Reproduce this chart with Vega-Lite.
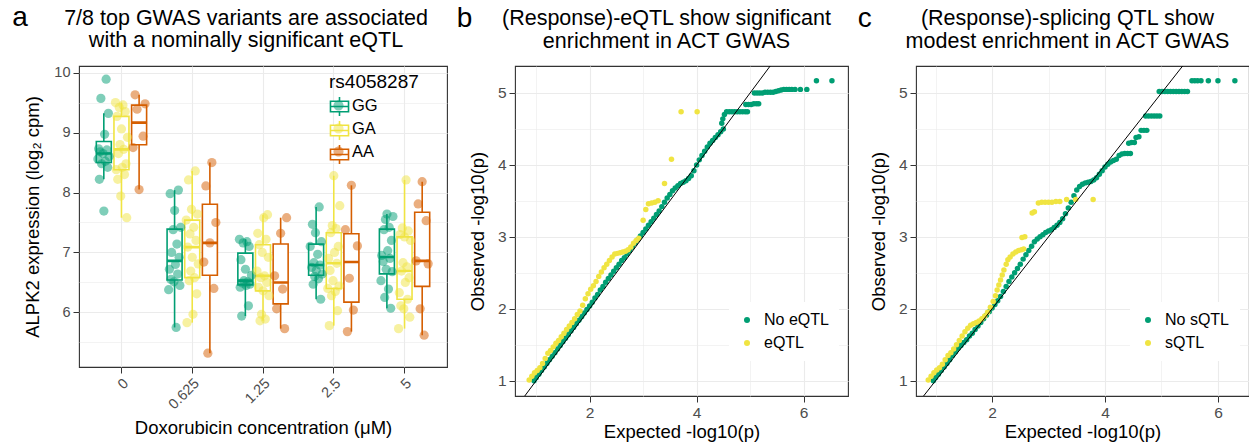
{
  "$schema": "https://vega.github.io/schema/vega-lite/v6.json",
  "background": "white",
  "padding": {"left": 12, "top": 4, "right": 0, "bottom": 0},
  "config": {
    "font": "Liberation Sans",
    "view": {"stroke": "#333333", "strokeWidth": 1.1},
    "axis": {"domain": false, "grid": true, "gridColor": "#EBEBEB", "labelColor": "#4D4D4D", "tickColor": "#333333", "tickSize": 6, "tickWidth": 1, "labelPadding": 3, "titleFontWeight": "normal", "titleColor": "#000000", "titleFontSize": 18.5, "labelFlush": false, "labelOverlap": false},
    "title": {"fontWeight": "normal", "color": "#000000"},
    "legend": {"labelColor": "#000000", "titleFontWeight": "normal", "titleColor": "#000000"}
  },
  "datasets": {
    "expr": [
      {"c":"0","g":"GG","i":9,"v":7.69},{"c":"0","g":"GG","i":3,"v":8.22},{"c":"0","g":"GG","i":14,"v":8.42},{"c":"0","g":"GG","i":6,"v":8.48},{"c":"0","g":"GG","i":11,"v":8.52},{"c":"0","g":"GG","i":1,"v":8.56},{"c":"0","g":"GG","i":16,"v":8.60},{"c":"0","g":"GG","i":8,"v":8.65},{"c":"0","g":"GG","i":4,"v":8.68},{"c":"0","g":"GG","i":13,"v":8.71},{"c":"0","g":"GG","i":2,"v":8.73},{"c":"0","g":"GG","i":10,"v":8.97},{"c":"0","g":"GG","i":15,"v":9.32},{"c":"0","g":"GG","i":5,"v":9.57},{"c":"0","g":"GG","i":12,"v":9.89},
      {"c":"0.625","g":"GG","i":11,"v":5.75},{"c":"0.625","g":"GG","i":1,"v":6.38},{"c":"0.625","g":"GG","i":16,"v":6.45},{"c":"0.625","g":"GG","i":8,"v":6.51},{"c":"0.625","g":"GG","i":4,"v":6.55},{"c":"0.625","g":"GG","i":13,"v":6.64},{"c":"0.625","g":"GG","i":2,"v":6.72},{"c":"0.625","g":"GG","i":10,"v":6.80},{"c":"0.625","g":"GG","i":15,"v":6.92},{"c":"0.625","g":"GG","i":5,"v":7.00},{"c":"0.625","g":"GG","i":12,"v":7.14},{"c":"0.625","g":"GG","i":7,"v":7.38},{"c":"0.625","g":"GG","i":17,"v":7.42},{"c":"0.625","g":"GG","i":9,"v":7.70},{"c":"0.625","g":"GG","i":3,"v":7.98},{"c":"0.625","g":"GG","i":14,"v":8.04},
      {"c":"1.25","g":"GG","i":4,"v":5.94},{"c":"1.25","g":"GG","i":13,"v":6.11},{"c":"1.25","g":"GG","i":2,"v":6.42},{"c":"1.25","g":"GG","i":10,"v":6.45},{"c":"1.25","g":"GG","i":15,"v":6.47},{"c":"1.25","g":"GG","i":5,"v":6.49},{"c":"1.25","g":"GG","i":12,"v":6.51},{"c":"1.25","g":"GG","i":7,"v":6.53},{"c":"1.25","g":"GG","i":17,"v":6.62},{"c":"1.25","g":"GG","i":9,"v":6.72},{"c":"1.25","g":"GG","i":3,"v":6.88},{"c":"1.25","g":"GG","i":14,"v":7.10},{"c":"1.25","g":"GG","i":6,"v":7.16},{"c":"1.25","g":"GG","i":11,"v":7.18},{"c":"1.25","g":"GG","i":1,"v":7.22},
      {"c":"2.5","g":"GG","i":15,"v":6.22},{"c":"2.5","g":"GG","i":5,"v":6.47},{"c":"2.5","g":"GG","i":12,"v":6.56},{"c":"2.5","g":"GG","i":7,"v":6.60},{"c":"2.5","g":"GG","i":17,"v":6.64},{"c":"2.5","g":"GG","i":9,"v":6.70},{"c":"2.5","g":"GG","i":3,"v":6.75},{"c":"2.5","g":"GG","i":14,"v":6.79},{"c":"2.5","g":"GG","i":6,"v":6.83},{"c":"2.5","g":"GG","i":11,"v":6.97},{"c":"2.5","g":"GG","i":1,"v":7.10},{"c":"2.5","g":"GG","i":16,"v":7.18},{"c":"2.5","g":"GG","i":8,"v":7.33},{"c":"2.5","g":"GG","i":4,"v":7.47},{"c":"2.5","g":"GG","i":13,"v":7.76},
      {"c":"5","g":"GG","i":14,"v":6.07},{"c":"5","g":"GG","i":6,"v":6.25},{"c":"5","g":"GG","i":11,"v":6.39},{"c":"5","g":"GG","i":1,"v":6.53},{"c":"5","g":"GG","i":16,"v":6.68},{"c":"5","g":"GG","i":8,"v":6.72},{"c":"5","g":"GG","i":4,"v":6.85},{"c":"5","g":"GG","i":13,"v":6.90},{"c":"5","g":"GG","i":2,"v":6.95},{"c":"5","g":"GG","i":10,"v":7.03},{"c":"5","g":"GG","i":15,"v":7.20},{"c":"5","g":"GG","i":5,"v":7.38},{"c":"5","g":"GG","i":12,"v":7.42},{"c":"5","g":"GG","i":7,"v":7.55},{"c":"5","g":"GG","i":17,"v":7.60},{"c":"5","g":"GG","i":9,"v":7.64},
      {"c":"0","g":"GA","i":16,"v":7.58},{"c":"0","g":"GA","i":8,"v":7.94},{"c":"0","g":"GA","i":4,"v":8.22},{"c":"0","g":"GA","i":13,"v":8.30},{"c":"0","g":"GA","i":2,"v":8.38},{"c":"0","g":"GA","i":10,"v":8.42},{"c":"0","g":"GA","i":15,"v":8.48},{"c":"0","g":"GA","i":5,"v":8.65},{"c":"0","g":"GA","i":12,"v":8.72},{"c":"0","g":"GA","i":7,"v":8.80},{"c":"0","g":"GA","i":17,"v":8.92},{"c":"0","g":"GA","i":9,"v":9.06},{"c":"0","g":"GA","i":3,"v":9.27},{"c":"0","g":"GA","i":14,"v":9.35},{"c":"0","g":"GA","i":6,"v":9.42},{"c":"0","g":"GA","i":11,"v":9.46},{"c":"0","g":"GA","i":1,"v":9.50},
      {"c":"0.625","g":"GA","i":2,"v":5.83},{"c":"0.625","g":"GA","i":10,"v":5.97},{"c":"0.625","g":"GA","i":15,"v":6.31},{"c":"0.625","g":"GA","i":5,"v":6.53},{"c":"0.625","g":"GA","i":12,"v":6.58},{"c":"0.625","g":"GA","i":7,"v":6.69},{"c":"0.625","g":"GA","i":17,"v":6.81},{"c":"0.625","g":"GA","i":9,"v":6.92},{"c":"0.625","g":"GA","i":3,"v":7.09},{"c":"0.625","g":"GA","i":14,"v":7.20},{"c":"0.625","g":"GA","i":6,"v":7.31},{"c":"0.625","g":"GA","i":11,"v":7.42},{"c":"0.625","g":"GA","i":1,"v":7.54},{"c":"0.625","g":"GA","i":16,"v":7.64},{"c":"0.625","g":"GA","i":8,"v":7.72},{"c":"0.625","g":"GA","i":4,"v":8.21},{"c":"0.625","g":"GA","i":13,"v":8.36},
      {"c":"1.25","g":"GA","i":5,"v":5.86},{"c":"1.25","g":"GA","i":12,"v":5.89},{"c":"1.25","g":"GA","i":7,"v":5.97},{"c":"1.25","g":"GA","i":17,"v":6.28},{"c":"1.25","g":"GA","i":9,"v":6.36},{"c":"1.25","g":"GA","i":3,"v":6.42},{"c":"1.25","g":"GA","i":14,"v":6.50},{"c":"1.25","g":"GA","i":6,"v":6.58},{"c":"1.25","g":"GA","i":11,"v":6.61},{"c":"1.25","g":"GA","i":1,"v":6.69},{"c":"1.25","g":"GA","i":16,"v":6.92},{"c":"1.25","g":"GA","i":8,"v":7.00},{"c":"1.25","g":"GA","i":4,"v":7.13},{"c":"1.25","g":"GA","i":13,"v":7.22},{"c":"1.25","g":"GA","i":2,"v":7.32},{"c":"1.25","g":"GA","i":10,"v":7.58},{"c":"1.25","g":"GA","i":15,"v":7.63},
      {"c":"2.5","g":"GA","i":3,"v":5.78},{"c":"2.5","g":"GA","i":14,"v":6.03},{"c":"2.5","g":"GA","i":6,"v":6.28},{"c":"2.5","g":"GA","i":11,"v":6.35},{"c":"2.5","g":"GA","i":1,"v":6.40},{"c":"2.5","g":"GA","i":16,"v":6.44},{"c":"2.5","g":"GA","i":8,"v":6.53},{"c":"2.5","g":"GA","i":4,"v":6.70},{"c":"2.5","g":"GA","i":13,"v":6.82},{"c":"2.5","g":"GA","i":2,"v":6.90},{"c":"2.5","g":"GA","i":10,"v":7.00},{"c":"2.5","g":"GA","i":15,"v":7.10},{"c":"2.5","g":"GA","i":5,"v":7.33},{"c":"2.5","g":"GA","i":12,"v":7.40},{"c":"2.5","g":"GA","i":7,"v":7.45},{"c":"2.5","g":"GA","i":17,"v":7.78},{"c":"2.5","g":"GA","i":9,"v":8.28},
      {"c":"5","g":"GA","i":1,"v":5.73},{"c":"5","g":"GA","i":16,"v":5.92},{"c":"5","g":"GA","i":8,"v":6.06},{"c":"5","g":"GA","i":4,"v":6.11},{"c":"5","g":"GA","i":13,"v":6.22},{"c":"5","g":"GA","i":2,"v":6.33},{"c":"5","g":"GA","i":10,"v":6.50},{"c":"5","g":"GA","i":15,"v":6.58},{"c":"5","g":"GA","i":5,"v":6.69},{"c":"5","g":"GA","i":12,"v":6.76},{"c":"5","g":"GA","i":7,"v":6.83},{"c":"5","g":"GA","i":17,"v":7.20},{"c":"5","g":"GA","i":9,"v":7.26},{"c":"5","g":"GA","i":3,"v":7.30},{"c":"5","g":"GA","i":14,"v":7.36},{"c":"5","g":"GA","i":6,"v":7.41},{"c":"5","g":"GA","i":11,"v":8.21},
      {"c":"0","g":"AA","i":4,"v":8.05},{"c":"0","g":"AA","i":1,"v":8.75},{"c":"0","g":"AA","i":6,"v":8.94},{"c":"0","g":"AA","i":3,"v":9.39},{"c":"0","g":"AA","i":7,"v":9.48},{"c":"0","g":"AA","i":2,"v":9.63},
      {"c":"0.625","g":"AA","i":3,"v":5.32},{"c":"0.625","g":"AA","i":6,"v":6.40},{"c":"0.625","g":"AA","i":1,"v":6.84},{"c":"0.625","g":"AA","i":4,"v":7.16},{"c":"0.625","g":"AA","i":7,"v":7.50},{"c":"0.625","g":"AA","i":2,"v":8.11},{"c":"0.625","g":"AA","i":5,"v":8.50},
      {"c":"1.25","g":"AA","i":6,"v":5.73},{"c":"1.25","g":"AA","i":2,"v":6.06},{"c":"1.25","g":"AA","i":5,"v":6.39},{"c":"1.25","g":"AA","i":1,"v":6.61},{"c":"1.25","g":"AA","i":4,"v":7.32},{"c":"1.25","g":"AA","i":7,"v":7.58},
      {"c":"2.5","g":"AA","i":2,"v":5.68},{"c":"2.5","g":"AA","i":5,"v":6.04},{"c":"2.5","g":"AA","i":3,"v":6.57},{"c":"2.5","g":"AA","i":7,"v":7.11},{"c":"2.5","g":"AA","i":1,"v":7.38},{"c":"2.5","g":"AA","i":4,"v":8.12},
      {"c":"5","g":"AA","i":5,"v":5.62},{"c":"5","g":"AA","i":3,"v":6.06},{"c":"5","g":"AA","i":7,"v":6.81},{"c":"5","g":"AA","i":1,"v":6.86},{"c":"5","g":"AA","i":6,"v":7.53},{"c":"5","g":"AA","i":2,"v":7.81},{"c":"5","g":"AA","i":4,"v":8.18}
    ],
    "qqb": [
      {"t":"No eQTL","e":0.96,"o":1.00},{"t":"No eQTL","e":1.00,"o":1.04},{"t":"No eQTL","e":1.05,"o":1.09},{"t":"No eQTL","e":1.10,"o":1.14},{"t":"No eQTL","e":1.15,"o":1.19},{"t":"No eQTL","e":1.20,"o":1.24},{"t":"No eQTL","e":1.25,"o":1.29},{"t":"No eQTL","e":1.30,"o":1.34},{"t":"No eQTL","e":1.35,"o":1.39},{"t":"No eQTL","e":1.40,"o":1.44},{"t":"No eQTL","e":1.45,"o":1.49},{"t":"No eQTL","e":1.50,"o":1.54},{"t":"No eQTL","e":1.55,"o":1.59},{"t":"No eQTL","e":1.60,"o":1.64},{"t":"No eQTL","e":1.65,"o":1.69},{"t":"No eQTL","e":1.70,"o":1.74},{"t":"No eQTL","e":1.75,"o":1.79},{"t":"No eQTL","e":1.80,"o":1.84},{"t":"No eQTL","e":1.85,"o":1.89},{"t":"No eQTL","e":1.90,"o":1.94},{"t":"No eQTL","e":1.95,"o":1.99},{"t":"No eQTL","e":2.00,"o":2.04},{"t":"No eQTL","e":2.05,"o":2.09},{"t":"No eQTL","e":2.10,"o":2.15},{"t":"No eQTL","e":2.15,"o":2.20},{"t":"No eQTL","e":2.20,"o":2.26},{"t":"No eQTL","e":2.25,"o":2.31},{"t":"No eQTL","e":2.30,"o":2.37},{"t":"No eQTL","e":2.35,"o":2.42},{"t":"No eQTL","e":2.40,"o":2.47},{"t":"No eQTL","e":2.45,"o":2.52},{"t":"No eQTL","e":2.50,"o":2.57},{"t":"No eQTL","e":2.55,"o":2.62},{"t":"No eQTL","e":2.60,"o":2.67},{"t":"No eQTL","e":2.65,"o":2.71},{"t":"No eQTL","e":2.70,"o":2.76},{"t":"No eQTL","e":2.75,"o":2.81},{"t":"No eQTL","e":2.80,"o":2.86},{"t":"No eQTL","e":2.85,"o":2.91},{"t":"No eQTL","e":2.90,"o":2.96},{"t":"No eQTL","e":2.95,"o":3.01},{"t":"No eQTL","e":3.00,"o":3.06},{"t":"No eQTL","e":3.05,"o":3.11},{"t":"No eQTL","e":3.10,"o":3.16},{"t":"No eQTL","e":3.15,"o":3.21},{"t":"No eQTL","e":3.20,"o":3.26},{"t":"No eQTL","e":3.25,"o":3.31},{"t":"No eQTL","e":3.30,"o":3.36},{"t":"No eQTL","e":3.35,"o":3.42},{"t":"No eQTL","e":3.40,"o":3.48},{"t":"No eQTL","e":3.45,"o":3.54},{"t":"No eQTL","e":3.50,"o":3.59},{"t":"No eQTL","e":3.55,"o":3.64},{"t":"No eQTL","e":3.60,"o":3.68},{"t":"No eQTL","e":3.65,"o":3.71},{"t":"No eQTL","e":3.70,"o":3.74},{"t":"No eQTL","e":3.75,"o":3.76},{"t":"No eQTL","e":3.80,"o":3.78},{"t":"No eQTL","e":3.85,"o":3.81},{"t":"No eQTL","e":3.90,"o":3.85},{"t":"No eQTL","e":3.95,"o":3.92},{"t":"No eQTL","e":4.00,"o":4.00},{"t":"No eQTL","e":4.05,"o":4.07},{"t":"No eQTL","e":4.10,"o":4.13},{"t":"No eQTL","e":4.15,"o":4.19},{"t":"No eQTL","e":4.20,"o":4.25},{"t":"No eQTL","e":4.25,"o":4.30},{"t":"No eQTL","e":4.30,"o":4.34},{"t":"No eQTL","e":4.35,"o":4.38},{"t":"No eQTL","e":4.40,"o":4.42},{"t":"No eQTL","e":4.45,"o":4.46},{"t":"No eQTL","e":4.50,"o":4.50},
      {"t":"No eQTL","e":4.47,"o":4.58},{"t":"No eQTL","e":4.49,"o":4.64},{"t":"No eQTL","e":4.52,"o":4.70},{"t":"No eQTL","e":4.56,"o":4.74},{"t":"No eQTL","e":4.61,"o":4.74},{"t":"No eQTL","e":4.66,"o":4.74},{"t":"No eQTL","e":4.71,"o":4.74},{"t":"No eQTL","e":4.76,"o":4.74},{"t":"No eQTL","e":4.81,"o":4.74},{"t":"No eQTL","e":4.86,"o":4.74},{"t":"No eQTL","e":4.91,"o":4.74},{"t":"No eQTL","e":4.95,"o":4.74},{"t":"No eQTL","e":4.92,"o":4.84},{"t":"No eQTL","e":4.97,"o":4.84},{"t":"No eQTL","e":5.02,"o":4.84},{"t":"No eQTL","e":5.07,"o":4.85},{"t":"No eQTL","e":5.12,"o":4.85},{"t":"No eQTL","e":5.16,"o":4.85},{"t":"No eQTL","e":5.08,"o":5.00},{"t":"No eQTL","e":5.13,"o":5.00},{"t":"No eQTL","e":5.18,"o":5.00},{"t":"No eQTL","e":5.23,"o":5.00},{"t":"No eQTL","e":5.28,"o":5.01},{"t":"No eQTL","e":5.33,"o":5.01},{"t":"No eQTL","e":5.38,"o":5.01},{"t":"No eQTL","e":5.43,"o":5.01},{"t":"No eQTL","e":5.48,"o":5.02},{"t":"No eQTL","e":5.53,"o":5.03},{"t":"No eQTL","e":5.58,"o":5.04},{"t":"No eQTL","e":5.63,"o":5.05},{"t":"No eQTL","e":5.68,"o":5.05},{"t":"No eQTL","e":5.73,"o":5.05},{"t":"No eQTL","e":5.78,"o":5.05},{"t":"No eQTL","e":5.84,"o":5.05},{"t":"No eQTL","e":5.94,"o":5.05},{"t":"No eQTL","e":6.06,"o":5.05},{"t":"No eQTL","e":6.24,"o":5.17},{"t":"No eQTL","e":6.53,"o":5.17},
      {"t":"eQTL","e":0.87,"o":1.01},{"t":"eQTL","e":0.92,"o":1.06},{"t":"eQTL","e":0.97,"o":1.11},{"t":"eQTL","e":1.02,"o":1.14},{"t":"eQTL","e":1.07,"o":1.18},{"t":"eQTL","e":1.12,"o":1.24},{"t":"eQTL","e":1.17,"o":1.31},{"t":"eQTL","e":1.22,"o":1.38},{"t":"eQTL","e":1.27,"o":1.42},{"t":"eQTL","e":1.32,"o":1.47},{"t":"eQTL","e":1.37,"o":1.52},{"t":"eQTL","e":1.42,"o":1.56},{"t":"eQTL","e":1.47,"o":1.61},{"t":"eQTL","e":1.52,"o":1.66},{"t":"eQTL","e":1.57,"o":1.71},{"t":"eQTL","e":1.62,"o":1.76},{"t":"eQTL","e":1.67,"o":1.81},{"t":"eQTL","e":1.72,"o":1.86},{"t":"eQTL","e":1.77,"o":1.92},{"t":"eQTL","e":1.82,"o":1.97},{"t":"eQTL","e":1.87,"o":2.05},{"t":"eQTL","e":1.92,"o":2.14},{"t":"eQTL","e":1.97,"o":2.21},{"t":"eQTL","e":2.02,"o":2.27},{"t":"eQTL","e":2.07,"o":2.32},{"t":"eQTL","e":2.12,"o":2.38},{"t":"eQTL","e":2.17,"o":2.45},{"t":"eQTL","e":2.22,"o":2.51},{"t":"eQTL","e":2.27,"o":2.57},{"t":"eQTL","e":2.32,"o":2.62},{"t":"eQTL","e":2.37,"o":2.67},{"t":"eQTL","e":2.42,"o":2.72},{"t":"eQTL","e":2.47,"o":2.76},{"t":"eQTL","e":2.52,"o":2.77},{"t":"eQTL","e":2.57,"o":2.78},{"t":"eQTL","e":2.62,"o":2.79},{"t":"eQTL","e":2.67,"o":2.80},{"t":"eQTL","e":2.72,"o":2.82},{"t":"eQTL","e":2.77,"o":2.86},{"t":"eQTL","e":2.82,"o":2.91},{"t":"eQTL","e":2.87,"o":2.95},{"t":"eQTL","e":2.92,"o":2.98},{"t":"eQTL","e":3.00,"o":3.23},{"t":"eQTL","e":3.05,"o":3.38},{"t":"eQTL","e":3.10,"o":3.46},{"t":"eQTL","e":3.16,"o":3.47},{"t":"eQTL","e":3.22,"o":3.48},{"t":"eQTL","e":3.28,"o":3.50},{"t":"eQTL","e":3.40,"o":3.74},{"t":"eQTL","e":3.53,"o":4.08},{"t":"eQTL","e":3.71,"o":4.74},{"t":"eQTL","e":4.01,"o":4.74}
    ],
    "qqc": [
      {"t":"No sQTL","e":0.96,"o":1.00},{"t":"No sQTL","e":1.00,"o":1.04},{"t":"No sQTL","e":1.05,"o":1.09},{"t":"No sQTL","e":1.10,"o":1.14},{"t":"No sQTL","e":1.15,"o":1.19},{"t":"No sQTL","e":1.20,"o":1.24},{"t":"No sQTL","e":1.25,"o":1.29},{"t":"No sQTL","e":1.30,"o":1.35},{"t":"No sQTL","e":1.35,"o":1.40},{"t":"No sQTL","e":1.40,"o":1.45},{"t":"No sQTL","e":1.45,"o":1.49},{"t":"No sQTL","e":1.50,"o":1.53},{"t":"No sQTL","e":1.55,"o":1.57},{"t":"No sQTL","e":1.60,"o":1.62},{"t":"No sQTL","e":1.65,"o":1.66},{"t":"No sQTL","e":1.70,"o":1.71},{"t":"No sQTL","e":1.75,"o":1.76},{"t":"No sQTL","e":1.80,"o":1.81},{"t":"No sQTL","e":1.85,"o":1.86},{"t":"No sQTL","e":1.90,"o":1.91},{"t":"No sQTL","e":1.95,"o":1.96},{"t":"No sQTL","e":2.00,"o":2.01},{"t":"No sQTL","e":2.05,"o":2.06},{"t":"No sQTL","e":2.10,"o":2.11},{"t":"No sQTL","e":2.15,"o":2.17},{"t":"No sQTL","e":2.20,"o":2.24},{"t":"No sQTL","e":2.25,"o":2.31},{"t":"No sQTL","e":2.30,"o":2.38},{"t":"No sQTL","e":2.35,"o":2.44},{"t":"No sQTL","e":2.40,"o":2.50},{"t":"No sQTL","e":2.45,"o":2.56},{"t":"No sQTL","e":2.50,"o":2.62},{"t":"No sQTL","e":2.55,"o":2.69},{"t":"No sQTL","e":2.60,"o":2.75},{"t":"No sQTL","e":2.65,"o":2.81},{"t":"No sQTL","e":2.70,"o":2.87},{"t":"No sQTL","e":2.75,"o":2.93},{"t":"No sQTL","e":2.80,"o":2.97},{"t":"No sQTL","e":2.85,"o":3.00},{"t":"No sQTL","e":2.90,"o":3.03},{"t":"No sQTL","e":2.95,"o":3.06},{"t":"No sQTL","e":3.00,"o":3.08},{"t":"No sQTL","e":3.05,"o":3.10},{"t":"No sQTL","e":3.10,"o":3.13},{"t":"No sQTL","e":3.15,"o":3.16},{"t":"No sQTL","e":3.20,"o":3.20},{"t":"No sQTL","e":3.25,"o":3.25},{"t":"No sQTL","e":3.30,"o":3.32},{"t":"No sQTL","e":3.35,"o":3.40},{"t":"No sQTL","e":3.40,"o":3.48},{"t":"No sQTL","e":3.45,"o":3.57},{"t":"No sQTL","e":3.50,"o":3.65},{"t":"No sQTL","e":3.55,"o":3.70},{"t":"No sQTL","e":3.60,"o":3.73},{"t":"No sQTL","e":3.65,"o":3.75},{"t":"No sQTL","e":3.70,"o":3.76},{"t":"No sQTL","e":3.75,"o":3.77},{"t":"No sQTL","e":3.80,"o":3.79},{"t":"No sQTL","e":3.85,"o":3.82},{"t":"No sQTL","e":3.90,"o":3.87},{"t":"No sQTL","e":3.95,"o":3.92},{"t":"No sQTL","e":4.00,"o":3.97},{"t":"No sQTL","e":4.05,"o":4.01},{"t":"No sQTL","e":4.10,"o":4.04},{"t":"No sQTL","e":4.15,"o":4.06},{"t":"No sQTL","e":4.20,"o":4.08},{"t":"No sQTL","e":4.25,"o":4.13},{"t":"No sQTL","e":4.30,"o":4.15},{"t":"No sQTL","e":4.35,"o":4.16},{"t":"No sQTL","e":4.40,"o":4.16},{"t":"No sQTL","e":4.45,"o":4.16},
      {"t":"No sQTL","e":4.42,"o":4.30},{"t":"No sQTL","e":4.47,"o":4.31},{"t":"No sQTL","e":4.52,"o":4.31},{"t":"No sQTL","e":4.55,"o":4.38},{"t":"No sQTL","e":4.60,"o":4.39},{"t":"No sQTL","e":4.64,"o":4.48},{"t":"No sQTL","e":4.69,"o":4.48},{"t":"No sQTL","e":4.74,"o":4.48},{"t":"No sQTL","e":4.72,"o":4.68},{"t":"No sQTL","e":4.77,"o":4.68},{"t":"No sQTL","e":4.82,"o":4.68},{"t":"No sQTL","e":4.87,"o":4.68},{"t":"No sQTL","e":4.92,"o":4.68},{"t":"No sQTL","e":4.97,"o":4.68},{"t":"No sQTL","e":4.96,"o":5.02},{"t":"No sQTL","e":5.01,"o":5.02},{"t":"No sQTL","e":5.06,"o":5.02},{"t":"No sQTL","e":5.11,"o":5.02},{"t":"No sQTL","e":5.16,"o":5.02},{"t":"No sQTL","e":5.21,"o":5.02},{"t":"No sQTL","e":5.26,"o":5.02},{"t":"No sQTL","e":5.31,"o":5.02},{"t":"No sQTL","e":5.36,"o":5.02},{"t":"No sQTL","e":5.41,"o":5.02},{"t":"No sQTL","e":5.46,"o":5.02},{"t":"No sQTL","e":5.54,"o":5.17},{"t":"No sQTL","e":5.59,"o":5.17},{"t":"No sQTL","e":5.64,"o":5.17},{"t":"No sQTL","e":5.70,"o":5.17},{"t":"No sQTL","e":5.83,"o":5.17},{"t":"No sQTL","e":6.00,"o":5.17},{"t":"No sQTL","e":6.30,"o":5.17},
      {"t":"sQTL","e":0.87,"o":1.01},{"t":"sQTL","e":0.92,"o":1.06},{"t":"sQTL","e":0.97,"o":1.11},{"t":"sQTL","e":1.02,"o":1.15},{"t":"sQTL","e":1.07,"o":1.18},{"t":"sQTL","e":1.12,"o":1.23},{"t":"sQTL","e":1.17,"o":1.29},{"t":"sQTL","e":1.22,"o":1.35},{"t":"sQTL","e":1.27,"o":1.39},{"t":"sQTL","e":1.32,"o":1.44},{"t":"sQTL","e":1.37,"o":1.50},{"t":"sQTL","e":1.42,"o":1.56},{"t":"sQTL","e":1.47,"o":1.62},{"t":"sQTL","e":1.52,"o":1.68},{"t":"sQTL","e":1.57,"o":1.73},{"t":"sQTL","e":1.62,"o":1.77},{"t":"sQTL","e":1.67,"o":1.79},{"t":"sQTL","e":1.72,"o":1.81},{"t":"sQTL","e":1.77,"o":1.83},{"t":"sQTL","e":1.82,"o":1.86},{"t":"sQTL","e":1.87,"o":1.90},{"t":"sQTL","e":1.92,"o":1.95},{"t":"sQTL","e":1.97,"o":2.02},{"t":"sQTL","e":2.02,"o":2.10},{"t":"sQTL","e":2.06,"o":2.18},{"t":"sQTL","e":2.09,"o":2.26},{"t":"sQTL","e":2.12,"o":2.33},{"t":"sQTL","e":2.15,"o":2.40},{"t":"sQTL","e":2.18,"o":2.47},{"t":"sQTL","e":2.21,"o":2.54},{"t":"sQTL","e":2.25,"o":2.62},{"t":"sQTL","e":2.28,"o":2.68},{"t":"sQTL","e":2.32,"o":2.72},{"t":"sQTL","e":2.37,"o":2.76},{"t":"sQTL","e":2.42,"o":2.79},{"t":"sQTL","e":2.47,"o":2.81},{"t":"sQTL","e":2.52,"o":2.82},{"t":"sQTL","e":2.56,"o":2.83},{"t":"sQTL","e":2.53,"o":2.99},{"t":"sQTL","e":2.58,"o":3.00},{"t":"sQTL","e":2.71,"o":3.33},{"t":"sQTL","e":2.75,"o":3.35},{"t":"sQTL","e":2.82,"o":3.47},{"t":"sQTL","e":2.88,"o":3.48},{"t":"sQTL","e":2.94,"o":3.48},{"t":"sQTL","e":3.00,"o":3.48},{"t":"sQTL","e":3.06,"o":3.48},{"t":"sQTL","e":3.13,"o":3.49},{"t":"sQTL","e":3.20,"o":3.49},{"t":"sQTL","e":3.32,"o":3.52},{"t":"sQTL","e":3.48,"o":3.52},{"t":"sQTL","e":3.79,"o":3.52}
    ],
    "diag": [{"d": 0.787}, {"d": 5.375}]
  },
  "spacing": 8,
  "resolve": {"scale": {"color": "independent", "fill": "independent", "stroke": "independent"}},
  "hconcat": [
    {
      "title": {"text": "a", "fontSize": 28, "anchor": "start", "offset": -25, "dx": -11},
      "resolve": {"scale": {"color": "independent", "fill": "independent", "stroke": "independent"}},
      "hconcat": [
        {
          "width": 368,
          "height": 301,
          "title": {"text": ["7/8 top GWAS variants are associated", "with a nominally significant eQTL"], "fontSize": 21.5, "lineHeight": 22.5, "frame": "group", "dx": -17, "offset": 13},
          "data": {"name": "expr"},
          "encoding": {
            "x": {"field": "c", "type": "nominal", "sort": ["0", "0.625", "1.25", "2.5", "5"], "scale": {"paddingInner": 0, "paddingOuter": 0.1}, "axis": {"title": "Doxorubicin concentration (μM)", "labelAngle": -45, "labelFontSize": 14.5, "bandPosition": 0.5, "grid": true, "titlePadding": 7, "gridWidth": 1.1}},
            "y": {"field": "v", "type": "quantitative", "title": "ALPK2 expression (log₂ cpm)", "scale": {"domain": [5.09, 10.11], "nice": false, "zero": false}, "axis": {"values": [5.5, 6, 6.5, 7, 7.5, 8, 8.5, 9, 9.5, 10], "labelExpr": "datum.value % 1 === 0 ? format(datum.value, 'd') : ''", "gridWidth": {"condition": {"test": "datum.value % 1 !== 0", "value": 0.6}, "value": 1.1}, "tickOpacity": {"condition": {"test": "datum.value % 1 !== 0", "value": 0}, "value": 1}, "labelFontSize": 14.5, "titlePadding": 11}}
          },
          "layer": [
            {
              "transform": [
                {"joinaggregate": [{"op": "q1", "field": "v", "as": "q1"}, {"op": "q3", "field": "v", "as": "q3"}], "groupby": ["c", "g"]},
                {"filter": "datum.v >= datum.q1 - 1.5 * (datum.q3 - datum.q1) && datum.v <= datum.q3 + 1.5 * (datum.q3 - datum.q1)"},
                {"aggregate": [{"op": "min", "field": "v", "as": "lo"}, {"op": "max", "field": "v", "as": "hi"}], "groupby": ["c", "g"]}
              ],
              "mark": {"type": "rule", "strokeWidth": 1.6},
              "encoding": {
                "xOffset": {"field": "g", "type": "nominal", "sort": ["GG", "GA", "AA"], "scale": {"paddingInner": 0.15, "paddingOuter": 0.58}},
                "y": {"field": "lo", "type": "quantitative", "title": "ALPK2 expression (log₂ cpm)", "axis": {"values": [5.5, 6, 6.5, 7, 7.5, 8, 8.5, 9, 9.5, 10], "labelExpr": "datum.value % 1 === 0 ? format(datum.value, 'd') : ''", "gridWidth": {"condition": {"test": "datum.value % 1 !== 0", "value": 0.6}, "value": 1.1}, "tickOpacity": {"condition": {"test": "datum.value % 1 !== 0", "value": 0}, "value": 1}, "labelFontSize": 14.5, "titlePadding": 11}},
                "y2": {"field": "hi"},
                "stroke": {"field": "g", "type": "nominal", "sort": ["GG", "GA", "AA"], "scale": {"range": ["#009E73", "#F0E442", "#D55E00"]}, "legend": {"title": " ", "labelExpr": "''", "orient": "none", "legendX": 250, "legendY": 7, "symbolType": "M-0.95,-0.56H0.95V0.56H-0.95Z M-0.95,0H0.95 M0,-1V-0.56 M0,0.56V1", "symbolSize": 361, "symbolFillColor": "transparent", "symbolStrokeWidth": 1.6, "titleFontSize": 19, "labelFontSize": 16.5, "rowPadding": -4.5, "labelOffset": 4, "titlePadding": 4, "padding": 0}}
              }
            },
            {
              "transform": [
                {"aggregate": [{"op": "q1", "field": "v", "as": "q1"}, {"op": "q3", "field": "v", "as": "q3"}], "groupby": ["c", "g"]}
              ],
              "mark": {"type": "bar", "fill": "white", "strokeWidth": 1.6},
              "encoding": {
                "xOffset": {"field": "g", "type": "nominal", "sort": ["GG", "GA", "AA"], "scale": {"paddingInner": 0.15, "paddingOuter": 0.58}},
                "y": {"field": "q1", "type": "quantitative", "title": "ALPK2 expression (log₂ cpm)", "axis": {"values": [5.5, 6, 6.5, 7, 7.5, 8, 8.5, 9, 9.5, 10], "labelExpr": "datum.value % 1 === 0 ? format(datum.value, 'd') : ''", "gridWidth": {"condition": {"test": "datum.value % 1 !== 0", "value": 0.6}, "value": 1.1}, "tickOpacity": {"condition": {"test": "datum.value % 1 !== 0", "value": 0}, "value": 1}, "labelFontSize": 14.5, "titlePadding": 11}},
                "y2": {"field": "q3"},
                "stroke": {"field": "g", "type": "nominal", "sort": ["GG", "GA", "AA"]}
              }
            },
            {
              "transform": [
                {"aggregate": [{"op": "median", "field": "v", "as": "med"}], "groupby": ["c", "g"]}
              ],
              "mark": {"type": "bar", "fill": "white", "strokeWidth": 2.6},
              "encoding": {
                "xOffset": {"field": "g", "type": "nominal", "sort": ["GG", "GA", "AA"], "scale": {"paddingInner": 0.15, "paddingOuter": 0.58}},
                "y": {"field": "med", "type": "quantitative", "title": "ALPK2 expression (log₂ cpm)", "axis": {"values": [5.5, 6, 6.5, 7, 7.5, 8, 8.5, 9, 9.5, 10], "labelExpr": "datum.value % 1 === 0 ? format(datum.value, 'd') : ''", "gridWidth": {"condition": {"test": "datum.value % 1 !== 0", "value": 0.6}, "value": 1.1}, "tickOpacity": {"condition": {"test": "datum.value % 1 !== 0", "value": 0}, "value": 1}, "labelFontSize": 14.5, "titlePadding": 11}},
                "y2": {"field": "med"},
                "stroke": {"field": "g", "type": "nominal", "sort": ["GG", "GA", "AA"]}
              }
            },
            {
              "transform": [{"filter": "datum.g === 'GG'"}],
              "mark": {"type": "circle", "opacity": 0.5, "size": 85},
              "encoding": {
                "xOffset": {"field": "i", "type": "ordinal", "scale": {"type": "point", "padding": 0, "range": [11.8, 23.8]}},
                "fill": {"field": "g", "type": "nominal", "scale": {"domain": ["GG", "GA", "AA"], "range": ["#009E73", "#F0E442", "#D55E00"]}, "legend": {"title": "rs4058287", "orient": "none", "legendX": 250, "legendY": 7, "symbolType": "M-0.53,0A0.53,0.53 0 1,0 0.53,0A0.53,0.53 0 1,0 -0.53,0Z", "symbolSize": 361, "symbolOpacity": 0.5, "symbolStrokeWidth": 0, "titleFontSize": 19, "labelFontSize": 16.5, "rowPadding": 5, "labelOffset": 4, "titlePadding": 4, "padding": 0}}
              }
            },
            {
              "transform": [{"filter": "datum.g === 'GA'"}],
              "mark": {"type": "circle", "opacity": 0.5, "size": 85},
              "encoding": {
                "xOffset": {"field": "i", "type": "ordinal", "scale": {"type": "point", "padding": 0, "range": [29.4, 41.4]}},
                "fill": {"field": "g", "type": "nominal"}
              }
            },
            {
              "transform": [{"filter": "datum.g === 'AA'"}],
              "mark": {"type": "circle", "opacity": 0.5, "size": 85},
              "encoding": {
                "xOffset": {"field": "i", "type": "ordinal", "scale": {"type": "point", "padding": 0, "range": [47, 59]}},
                "fill": {"field": "g", "type": "nominal"}
              }
            }
          ],
          "resolve": {"scale": {"xOffset": "independent"}}
        }
      ]
    },
    {
      "title": {"text": "b", "fontSize": 28, "anchor": "start", "offset": -25, "dx": -11},
      "resolve": {"scale": {"color": "independent", "fill": "independent", "stroke": "independent"}},
      "hconcat": [
        {
          "width": 333,
          "height": 330,
          "title": {"text": ["(Response)-eQTL show significant", "enrichment in ACT GWAS"], "fontSize": 21.5, "lineHeight": 22.5, "frame": "group", "dx": -15, "offset": 13.7},
          "layer": [
            {
              "data": {"name": "qqb"},
              "mark": {"type": "circle", "size": 30, "opacity": 1},
              "encoding": {
                "x": {"field": "e", "type": "quantitative", "title": "Expected -log10(p)", "scale": {"domain": [0.605, 6.83], "nice": false, "zero": false}, "axis": {"values": [1, 2, 3, 4, 5, 6], "labelExpr": "datum.value % 2 === 0 ? format(datum.value, 'd') : ''", "gridWidth": {"condition": {"test": "datum.value % 2 === 1", "value": 0.6}, "value": 1.1}, "tickOpacity": {"condition": {"test": "datum.value % 2 === 1", "value": 0}, "value": 1}, "labelFontSize": 15.5, "titlePadding": 2}},
                "y": {"field": "o", "type": "quantitative", "title": "Observed -log10(p)", "scale": {"domain": [0.787, 5.375], "nice": false, "zero": false}, "axis": {"values": [1, 1.5, 2, 2.5, 3, 3.5, 4, 4.5, 5], "labelExpr": "datum.value % 1 === 0 ? format(datum.value, 'd') : ''", "gridWidth": {"condition": {"test": "datum.value % 1 !== 0", "value": 0.6}, "value": 1.1}, "tickOpacity": {"condition": {"test": "datum.value % 1 !== 0", "value": 0}, "value": 1}, "labelFontSize": 15.5, "titlePadding": 10}},
                "color": {"field": "t", "type": "nominal", "scale": {"domain": ["No eQTL", "eQTL"], "range": ["#009E73", "#F0E442"]}, "legend": {"title": null, "orient": "none", "legendX": 214, "legendY": 236, "fillColor": "white", "padding": 10, "symbolType": "circle", "symbolSize": 36, "labelFontSize": 16, "rowPadding": 7, "labelOffset": 9}}
              }
            },
            {
              "data": {"name": "diag"},
              "mark": {"type": "line", "color": "black", "strokeWidth": 1, "clip": true},
              "encoding": {
                "x": {"field": "d", "type": "quantitative", "title": "Expected -log10(p)"},
                "y": {"field": "d", "type": "quantitative", "title": "Observed -log10(p)"}
              }
            }
          ]
        }
      ]
    },
    {
      "title": {"text": "c", "fontSize": 28, "anchor": "start", "offset": -25, "dx": -11},
      "resolve": {"scale": {"color": "independent", "fill": "independent", "stroke": "independent"}},
      "hconcat": [
        {
          "width": 333,
          "height": 330,
          "title": {"text": ["(Response)-splicing QTL show", "modest enrichment in ACT GWAS"], "fontSize": 21.5, "lineHeight": 22.5, "frame": "group", "dx": -15, "offset": 13.7},
          "layer": [
            {
              "data": {"name": "qqc"},
              "mark": {"type": "circle", "size": 30, "opacity": 1},
              "encoding": {
                "x": {"field": "e", "type": "quantitative", "title": "Expected -log10(p)", "scale": {"domain": [0.653, 6.55], "nice": false, "zero": false}, "axis": {"values": [1, 2, 3, 4, 5, 6], "labelExpr": "datum.value % 2 === 0 ? format(datum.value, 'd') : ''", "gridWidth": {"condition": {"test": "datum.value % 2 === 1", "value": 0.6}, "value": 1.1}, "tickOpacity": {"condition": {"test": "datum.value % 2 === 1", "value": 0}, "value": 1}, "labelFontSize": 15.5, "titlePadding": 2}},
                "y": {"field": "o", "type": "quantitative", "title": "Observed -log10(p)", "scale": {"domain": [0.787, 5.375], "nice": false, "zero": false}, "axis": {"values": [1, 1.5, 2, 2.5, 3, 3.5, 4, 4.5, 5], "labelExpr": "datum.value % 1 === 0 ? format(datum.value, 'd') : ''", "gridWidth": {"condition": {"test": "datum.value % 1 !== 0", "value": 0.6}, "value": 1.1}, "tickOpacity": {"condition": {"test": "datum.value % 1 !== 0", "value": 0}, "value": 1}, "labelFontSize": 15.5, "titlePadding": 10}},
                "color": {"field": "t", "type": "nominal", "scale": {"domain": ["No sQTL", "sQTL"], "range": ["#009E73", "#F0E442"]}, "legend": {"title": null, "orient": "none", "legendX": 214, "legendY": 236, "fillColor": "white", "padding": 10, "symbolType": "circle", "symbolSize": 36, "labelFontSize": 16, "rowPadding": 7, "labelOffset": 9}}
              }
            },
            {
              "data": {"name": "diag"},
              "mark": {"type": "line", "color": "black", "strokeWidth": 1, "clip": true},
              "encoding": {
                "x": {"field": "d", "type": "quantitative", "title": "Expected -log10(p)"},
                "y": {"field": "d", "type": "quantitative", "title": "Observed -log10(p)"}
              }
            }
          ]
        }
      ]
    }
  ]
}
